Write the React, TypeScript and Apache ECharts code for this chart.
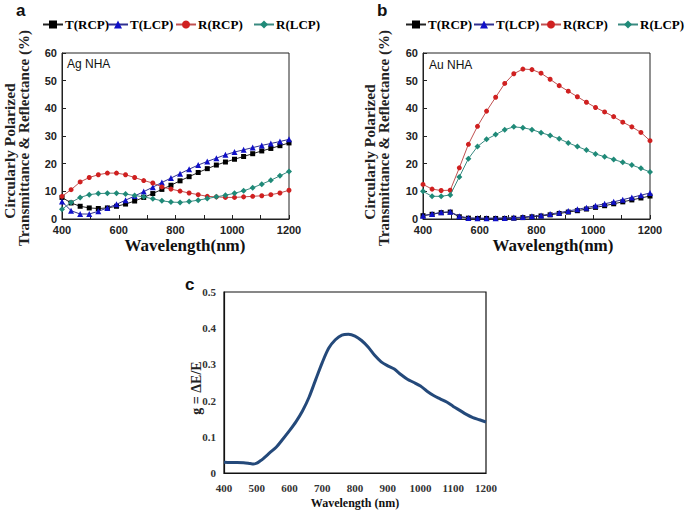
import React, { useEffect, useRef } from "react";
import * as echarts from "echarts";

// ---- data ----
const seriesNames = ["T(RCP)", "T(LCP)", "R(RCP)", "R(LCP)"];
const wavelengthAB = [
  400, 432, 464, 496, 528, 560, 592, 624, 656, 688, 720, 752, 784, 816, 848, 880,
  912, 944, 976, 1008, 1040, 1072, 1104, 1136, 1168, 1200,
];

// Panel a: Ag NHA
const agTRCP = [7.8, 5.8, 4.6, 4.0, 3.8, 4.0, 4.6, 5.4, 6.5, 7.8, 9.2, 10.7, 12.2, 13.8, 15.3, 16.8, 18.2, 19.5, 20.6, 21.6, 22.6, 23.6, 24.6, 25.5, 26.5, 27.5];
const agTLCP = [6.3, 3.0, 1.8, 1.8, 2.8, 4.0, 5.3, 6.8, 8.3, 9.9, 11.5, 13.2, 14.8, 16.4, 18.0, 19.5, 20.8, 22.0, 23.2, 24.2, 25.0, 25.8, 26.6, 27.3, 28.0, 28.8];
const agRRCP = [8.2, 10.6, 13.4, 15.0, 16.0, 16.6, 16.6, 16.0, 15.0, 13.9, 13.0, 11.6, 10.8, 10.1, 9.4, 8.8, 8.2, 8.0, 7.8, 7.8, 8.0, 8.2, 8.4, 8.8, 9.4, 10.4];
const agRLCP = [3.5, 6.0, 7.8, 8.8, 9.2, 9.3, 9.3, 9.0, 8.5, 8.0, 7.3, 6.6, 6.1, 6.0, 6.3, 6.8, 7.4, 8.0, 8.6, 9.3, 10.2, 11.3, 12.6, 14.0, 15.6, 17.2];

// Panel b: Au NHA
const auTRCP = [1.2, 1.7, 2.3, 2.5, 0.8, 0.3, 0.2, 0.2, 0.2, 0.2, 0.3, 0.5, 0.8, 1.1, 1.5, 2.0, 2.5, 3.0, 3.6, 4.2, 4.8, 5.5, 6.2, 6.9, 7.6, 8.3];
const auTLCP = [1.2, 1.8, 2.4, 2.6, 1.0, 0.4, 0.3, 0.3, 0.3, 0.4, 0.5, 0.7, 1.0, 1.3, 1.8, 2.3, 2.9, 3.5, 4.1, 4.8, 5.5, 6.2, 7.0, 7.8, 8.6, 9.4];
const auRRCP = [12.5, 10.8, 10.3, 10.4, 18.5, 27.0, 33.5, 39.0, 44.0, 49.0, 52.5, 54.2, 54.0, 52.7, 50.5, 48.2, 46.2, 44.2, 42.2, 40.3, 38.7, 37.0, 35.0, 33.3, 31.3, 28.3];
const auRLCP = [10.0, 8.2, 8.2, 8.7, 15.2, 21.8, 26.2, 28.8, 30.5, 32.3, 33.3, 33.0, 32.3, 31.2, 30.2, 29.0, 27.5, 26.2, 24.9, 23.5, 22.5, 21.5, 20.5, 19.5, 18.3, 17.0];

// Panel c: g-factor
const wavelengthC = [
  400, 420, 440, 460, 480, 490, 500, 510, 520, 540, 560, 580, 600, 620, 640, 660,
  680, 700, 720, 740, 760, 780, 800, 820, 840, 860, 880, 900, 920, 940, 960, 980,
  1000, 1020, 1040, 1060, 1080, 1100, 1120, 1140, 1160, 1180, 1200,
];
const gFactor = [
  0.030, 0.029, 0.029, 0.028, 0.026, 0.025, 0.027, 0.033, 0.040, 0.056, 0.072, 0.094, 0.117, 0.142, 0.172, 0.210,
  0.258, 0.305, 0.345, 0.368, 0.381, 0.383, 0.378, 0.366, 0.348, 0.325, 0.307, 0.296, 0.287, 0.272, 0.259, 0.250,
  0.240, 0.226, 0.214, 0.205, 0.196, 0.184, 0.173, 0.162, 0.153, 0.147, 0.141,
];

const colors = ["#000000", "#1010c8", "#d02020", "#1f8a78"];
const lineColors = ["#222222", "#303090", "#c05050", "#3a8a80"];
const symbols = ["rect", "triangle", "circle", "diamond"];
const symbolSizes = [5, 6, 5, 6];
const legendLeftA = [42, 107, 175, 253];
const legendLeftB = [405, 473, 540, 617];

const pair = (xs: number[], ys: number[]) => xs.map((x, i) => [x, ys[i]]);

const serif = "'Liberation Serif', 'Times New Roman', serif";
const sans = "'Liberation Sans', Arial, sans-serif";

export default function App() {
  const ref = useRef<HTMLDivElement>(null);
  useEffect(() => {
    if (!ref.current) return;
    const chart = echarts.init(ref.current, undefined, { renderer: "svg" });

    const abGrids = [
      { left: 62, top: 53, width: 227, height: 166 },
      { left: 423, top: 53, width: 227, height: 166 },
    ];
    const gridC = { left: 224, top: 292, width: 262, height: 181 };

    const abXAxis = (gi: number) => ({
      type: "value",
      gridIndex: gi,
      min: 400,
      max: 1200,
      interval: 100,
      axisLine: { lineStyle: { color: "#222", width: 1 } },
      axisTick: { inside: true, length: 4, lineStyle: { color: "#222" } },
      splitLine: { show: false },
      axisLabel: {
        margin: 5,
        fontFamily: sans,
        fontWeight: "bold",
        fontSize: 11,
        color: "#222",
        formatter: (v: number) => (v % 200 === 0 ? String(v) : ""),
      },
    });
    const abYAxis = (gi: number) => ({
      type: "value",
      gridIndex: gi,
      min: 0,
      max: 60,
      interval: 10,
      axisLine: { lineStyle: { color: "#222", width: 1 } },
      axisTick: { inside: true, length: 4, lineStyle: { color: "#222" } },
      splitLine: { show: false },
      axisLabel: { margin: 5, fontFamily: sans, fontWeight: "bold", fontSize: 11, color: "#222" },
    });

    const panelData = [
      [agTRCP, agTLCP, agRRCP, agRLCP],
      [auTRCP, auTLCP, auRRCP, auRLCP],
    ];

    const series: any[] = [];
    panelData.forEach((set, gi) => {
      set.forEach((vals, si) => {
        series.push({
          type: "line",
          name: seriesNames[si],
          xAxisIndex: gi,
          yAxisIndex: gi,
          data: pair(wavelengthAB, vals),
          symbol: symbols[si],
          symbolSize: symbolSizes[si],
          showSymbol: true,
          itemStyle: { color: colors[si] },
          lineStyle: { color: lineColors[si], width: 1 },
          z: 2 + si,
        });
      });
    });
    series.push({
      type: "line",
      name: "g",
      xAxisIndex: 2,
      yAxisIndex: 2,
      data: pair(wavelengthC, gFactor),
      smooth: 0.3,
      showSymbol: false,
      symbol: "none",
      lineStyle: { color: "#24497a", width: 3 },
    });

    const legends: any[] = [];
    [legendLeftA, legendLeftB].forEach((lefts) => {
      seriesNames.forEach((n, i) => {
        legends.push({
          top: 18,
          left: lefts[i],
          padding: 0,
          orient: "horizontal",
          itemWidth: 20,
          itemHeight: 10,
          itemGap: 0,
          data: [n],
          textStyle: { fontFamily: serif, fontWeight: "bold", fontSize: 13, color: "#000", padding: [0, 0, 0, -3] },
          selectedMode: false,
        });
      });
    });

    const rotText = (x: number, y: number, text: string, size: number, family = serif) => ({
      type: "text",
      x,
      y,
      rotation: Math.PI / 2,
      style: {
        text,
        fontFamily: family,
        fontWeight: "bold",
        fontSize: size,
        fill: "#222",
        textAlign: "center",
        textVerticalAlign: "middle",
      },
    });
    const plainText = (x: number, y: number, text: string, size: number, family: string, weight = "bold", align = "left") => ({
      type: "text",
      x,
      y,
      style: {
        text,
        fontFamily: family,
        fontWeight: weight,
        fontSize: size,
        fill: "#111",
        textAlign: align,
        textVerticalAlign: "middle",
      },
    });

    chart.setOption({
      animation: false,
      backgroundColor: "#ffffff",
      grid: [
        { ...abGrids[0], show: true, borderColor: "#222", borderWidth: 1, backgroundColor: "transparent" },
        { ...abGrids[1], show: true, borderColor: "#222", borderWidth: 1, backgroundColor: "transparent" },
        { ...gridC, show: true, borderColor: "#111", borderWidth: 1.2, backgroundColor: "transparent" },
      ],
      legend: legends,
      xAxis: [
        abXAxis(0),
        abXAxis(1),
        {
          type: "value",
          gridIndex: 2,
          min: 400,
          max: 1200,
          interval: 100,
          axisLine: { lineStyle: { color: "#111", width: 1.2 } },
          axisTick: { show: false },
          splitLine: { show: false },
          axisLabel: {
            margin: 9,
            fontFamily: serif,
            fontWeight: "bold",
            fontSize: 11,
            color: "#333",
            formatter: (v: number) => String(v),
          },
        },
      ],
      yAxis: [
        abYAxis(0),
        abYAxis(1),
        {
          type: "value",
          gridIndex: 2,
          min: 0,
          max: 0.5,
          interval: 0.1,
          axisLine: { lineStyle: { color: "#111", width: 1.2 } },
          axisTick: { show: false },
          splitLine: { show: false },
          axisLabel: { margin: 8, fontFamily: serif, fontWeight: "bold", fontSize: 11, color: "#333" },
        },
      ],
      series,
      graphic: [
        plainText(16, 10, "a", 17, sans),
        plainText(377, 10, "b", 17, sans),
        plainText(185, 284, "c", 17, sans),
        plainText(67, 64, "Ag NHA", 12, sans, "normal"),
        plainText(429, 65, "Au NHA", 12, sans, "normal"),
        rotText(9, 151, "Circularly Polarized", 15.5),
        rotText(24, 138, "Transmittance & Reflectance (%)", 15),
        rotText(369, 152, "Circularly Polarized", 15.5),
        rotText(384, 138, "Transmittance & Reflectance (%)", 15),
        plainText(185, 245, "Wavelength(nm)", 17, serif, "bold", "center"),
        plainText(553, 245, "Wavelength(nm)", 17, serif, "bold", "center"),
        plainText(355, 503, "Wavelength (nm)", 12, serif, "bold", "center"),
        rotText(196, 388, "g = ΔE/E", 14),
      ],
    });
    return () => chart.dispose();
  }, []);
  return (
    <div
      ref={ref}
      style={{ position: "fixed", left: 0, top: 0, width: 685, height: 513, background: "#fff" }}
    />
  );
}
